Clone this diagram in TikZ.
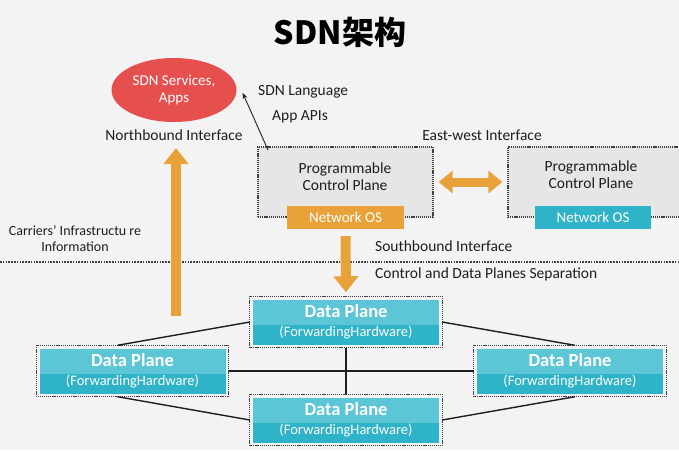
\documentclass[tikz,border=0pt]{standalone}
\usepackage{fontspec}
\setmainfont{Carlito}
\newfontfamily\cjk{Noto Sans CJK SC}
\usetikzlibrary{arrows.meta,calc,shapes.geometric}
\definecolor{bg}{HTML}{F3F3F3}
\definecolor{sdnred}{HTML}{E5504E}
\definecolor{sdnorange}{HTML}{E9A239}
\definecolor{sdncyan}{HTML}{2FB3C8}
\definecolor{dplight}{HTML}{5CC5D6}
\definecolor{cpgray}{HTML}{E6E6E6}
\definecolor{ink}{HTML}{1E1E1E}
\tikzset{
  lbl/.style={font=\fontsize{15.5}{17}\selectfont, text=ink, inner sep=1pt},
  dotborder/.style={draw=ink!85, line width=1.3pt, dash pattern=on 1.2pt off 0.9pt},
  cpbox/.style={dotborder, fill=cpgray, rectangle, inner sep=0pt},
  osbox/.style={rectangle, text=white, font=\fontsize{15}{17}\selectfont, inner sep=0pt},
  dpbox/.style={rectangle, fill=sdncyan, text=white, align=center, inner sep=0pt,
    font=\fontsize{14.5}{19}\selectfont,
    minimum width=186, minimum height=45,
    path picture={\fill[dplight] (path picture bounding box.north west) rectangle ([yshift=-3pt]path picture bounding box.east);}},
  link/.style={draw=ink, line width=1.4pt},
  bigarrow/.style={draw=sdnorange, line width=10pt, -{Triangle[width=24pt,length=16pt]}},
}
\newcommand{\dptext}{{\fontsize{18.5}{19}\selectfont\bfseries Data Plane}\\(ForwardingHardware)}
\begin{document}
\begin{tikzpicture}[x=1pt,y=-1pt]
\fill[bg] (0,0) rectangle (679,450);
\useasboundingbox (0,0) rectangle (679,450);

% title
\node[font=\fontsize{32}{36}\selectfont\cjk\bfseries, text=black] (title) at (340,32) {SDN架构};

% apps ellipse
\node[ellipse, fill=sdnred, minimum width=125, minimum height=64, text=white, align=center,
      font=\fontsize{15}{17}\selectfont, inner sep=0pt] (apps) at (174,90) {SDN Services,\\Apps};
\node[lbl, anchor=west] (lang) at (257,92) {SDN Language};
\node[lbl, anchor=west] (apis) at (271,117) {App APIs};
\node[lbl] (north) at (174,135) {Northbound Interface};
\node[lbl] (ew) at (482,135) {East-west Interface};

% control planes
\node[cpbox, minimum width=175, minimum height=70] (cp1) at (345.5,182) {};
\node[lbl, align=center] (cp1t) at (345,177) {Programmable\\Control Plane};
\node[osbox, fill=sdnorange, minimum width=117, minimum height=23] (os1) at (345.5,217.5) {Network OS};

\node[cpbox, minimum width=180, minimum height=70] (cp2) at (598,182) {};
\node[lbl, align=center] (cp2t) at (591,175) {Programmable\\Control Plane};
\node[osbox, fill=sdncyan, minimum width=116, minimum height=23] (os2) at (593,217.5) {Network OS};

% API arrow
\coordinate (apiS) at (268,150);
\draw[ink, line width=0.9pt, -{Stealth[length=6pt,width=5pt]}] (apiS) -- ([xshift=6pt,yshift=-3pt]apps.east);

% east-west arrow
\draw[sdnorange, line width=9pt, {Triangle[width=22pt,length=14pt]}-{Triangle[width=22pt,length=14pt]}]
  ([xshift=5pt]cp1.east) -- ([xshift=-5pt]cp2.west);

% left labels
\node[lbl, align=center, font=\fontsize{14}{16}\selectfont] (carriers) at (75,239) {Carriers’ Infrastructu re\\Information};

% separation line
\coordinate (sepL) at (0,262);
\coordinate (sepR) at (679,262);
\draw[ink!85, line width=2pt, dash pattern=on 1.5pt off 1.3pt] (sepL) -- (sepR);

\node[lbl, anchor=west] (south) at (374,246) {Southbound Interface};
\node[lbl, anchor=west] (sep) at (374,274) {Control and Data Planes Separation};

% data planes
\node[dpbox] (dpT) at (346,322) {\dptext};
\node[dpbox] (dpL) at (132.5,371) {\dptext};
\node[dpbox] (dpR) at (570,371) {\dptext};
\node[dpbox] (dpB) at (346,420) {\dptext};
\foreach \n in {dpT,dpL,dpR,dpB}{
  \draw[dotborder] ($(\n.south west)+(-3,3)$) rectangle ($(\n.north east)+(3,-3)$);
}

% links
\draw[link] ([xshift=-3pt]dpT.west) -- ([xshift=-15pt,yshift=3pt]dpL.north);
\draw[link] ([xshift=3pt]dpT.east) -- ([xshift=5pt,yshift=3pt]dpR.north);
\draw[link] ([xshift=-15pt,yshift=-3pt]dpL.south) -- ([xshift=-3pt]dpB.west);
\draw[link] ([xshift=5pt,yshift=-3pt]dpR.south) -- ([xshift=3pt]dpB.east);
\draw[link] ([xshift=3pt]dpL.east) -- ([xshift=-3pt]dpR.west);
\draw[link] ([yshift=-3pt]dpT.south) -- ([yshift=3pt]dpB.north);

% big arrows
\coordinate (upS) at (176,316);
\coordinate (upE) at (176,148);
\draw[bigarrow] (upS) -- (upE);
\draw[bigarrow] ([yshift=-7pt]os1.south) -- ([yshift=7pt]dpT.north);
\end{tikzpicture}
\end{document}
